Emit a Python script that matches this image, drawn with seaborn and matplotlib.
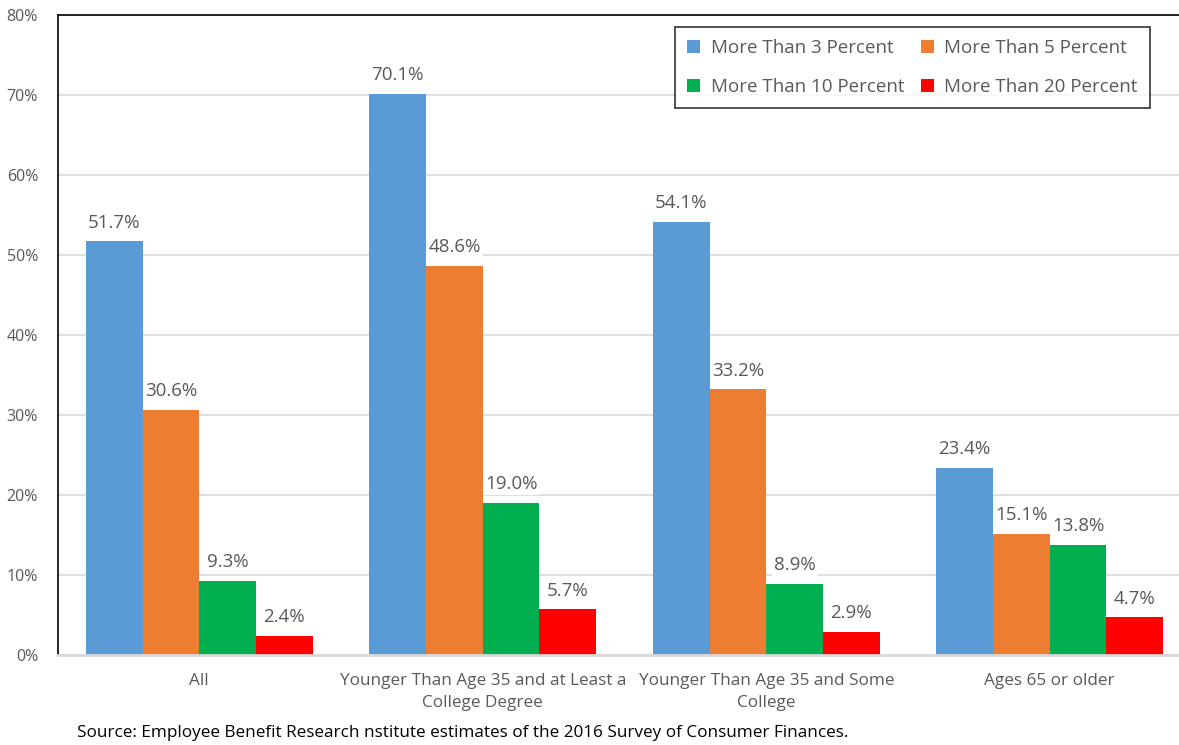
import pandas as pd
import matplotlib.pyplot as plt
import seaborn as sns

# data
groups = ["All",
          "Younger Than Age 35 and at Least a\nCollege Degree",
          "Younger Than Age 35 and Some\nCollege",
          "Ages 65 or older"]
series = ["More Than 3 Percent", "More Than 5 Percent",
          "More Than 10 Percent", "More Than 20 Percent"]
more_than_3 = [51.7, 70.1, 54.1, 23.4]
more_than_5 = [30.6, 48.6, 33.2, 15.1]
more_than_10 = [9.3, 19.0, 8.9, 13.8]
more_than_20 = [2.4, 5.7, 2.9, 4.7]
source_note = "Source: Employee Benefit Research nstitute estimates of the 2016 Survey of Consumer Finances."

COLORS = ["#5B9BD5", "#ED7D31", "#00B050", "#FF0000"]
TXT = "#595959"

rows = []
for s, vals in zip(series, [more_than_3, more_than_5, more_than_10, more_than_20]):
    for g, v in zip(groups, vals):
        rows.append({"group": g, "series": s, "value": v})
df = pd.DataFrame(rows)

sns.set_style("white")
plt.rcParams["font.family"] = ["Open Sans", "DejaVu Sans"]

fig = plt.figure(figsize=(11.79, 7.45), dpi=100)
ax = fig.add_axes([0.0488, 0.1208, 0.9618, 0.8591])

sns.barplot(data=df, x="group", y="value", hue="series", hue_order=series,
            palette=COLORS, width=0.8, gap=0, saturation=1, ax=ax,
            edgecolor="none", linewidth=0, errorbar=None)

for cont in ax.containers:
    labels = ax.bar_label(cont, fmt="%.1f%%", padding=7, fontsize=13.5, color=TXT)
    for t in labels:
        t.set_bbox(dict(facecolor="white", edgecolor="none", pad=1.5))

ax.set_ylim(0, 80)
ax.set_yticks(range(0, 81, 10))
ax.set_yticklabels([f"{v}%" for v in range(0, 81, 10)])
ax.set_xlim(-0.5, 3.5)
ax.set_xlabel("")
ax.set_ylabel("")
ax.tick_params(axis="both", length=0, colors=TXT)
ax.tick_params(axis="x", pad=13, labelsize=12.3)
ax.tick_params(axis="y", pad=14, labelsize=11.5)
for lab in ax.get_xticklabels():
    lab.set_linespacing(1.5)

ax.grid(axis="y", color="#D9D9D9", linewidth=1.2)
ax.set_axisbelow(True)
ax.spines["left"].set_color("black")
ax.spines["left"].set_linewidth(1.2)
ax.spines["top"].set_color("black")
ax.spines["top"].set_linewidth(1.2)
ax.spines["right"].set_visible(False)
ax.spines["bottom"].set_color("#D9D9D9")
ax.spines["bottom"].set_linewidth(2)

# row-wise legend order: 3, 5 on top, 10, 20 below
handles, labs = ax.get_legend_handles_labels()
order = [0, 2, 1, 3]
leg = ax.legend([handles[i] for i in order], [labs[i] for i in order],
                loc="upper right", bbox_to_anchor=(0.9634, 0.981), ncol=2,
                borderaxespad=0,
                frameon=True, fancybox=False, edgecolor="black",
                fontsize=13.5, handlelength=0.7, handleheight=0.7,
                columnspacing=0.9, handletextpad=0.55, labelspacing=1.1,
                borderpad=0.65)
leg.get_frame().set_linewidth(1.2)
for t in leg.get_texts():
    t.set_color(TXT)

fig.text(77 / 1179, 1 - 733 / 745, source_note, fontsize=12.3, color="black",
         ha="left", va="center")

fig.savefig("out.png", dpi=100)
